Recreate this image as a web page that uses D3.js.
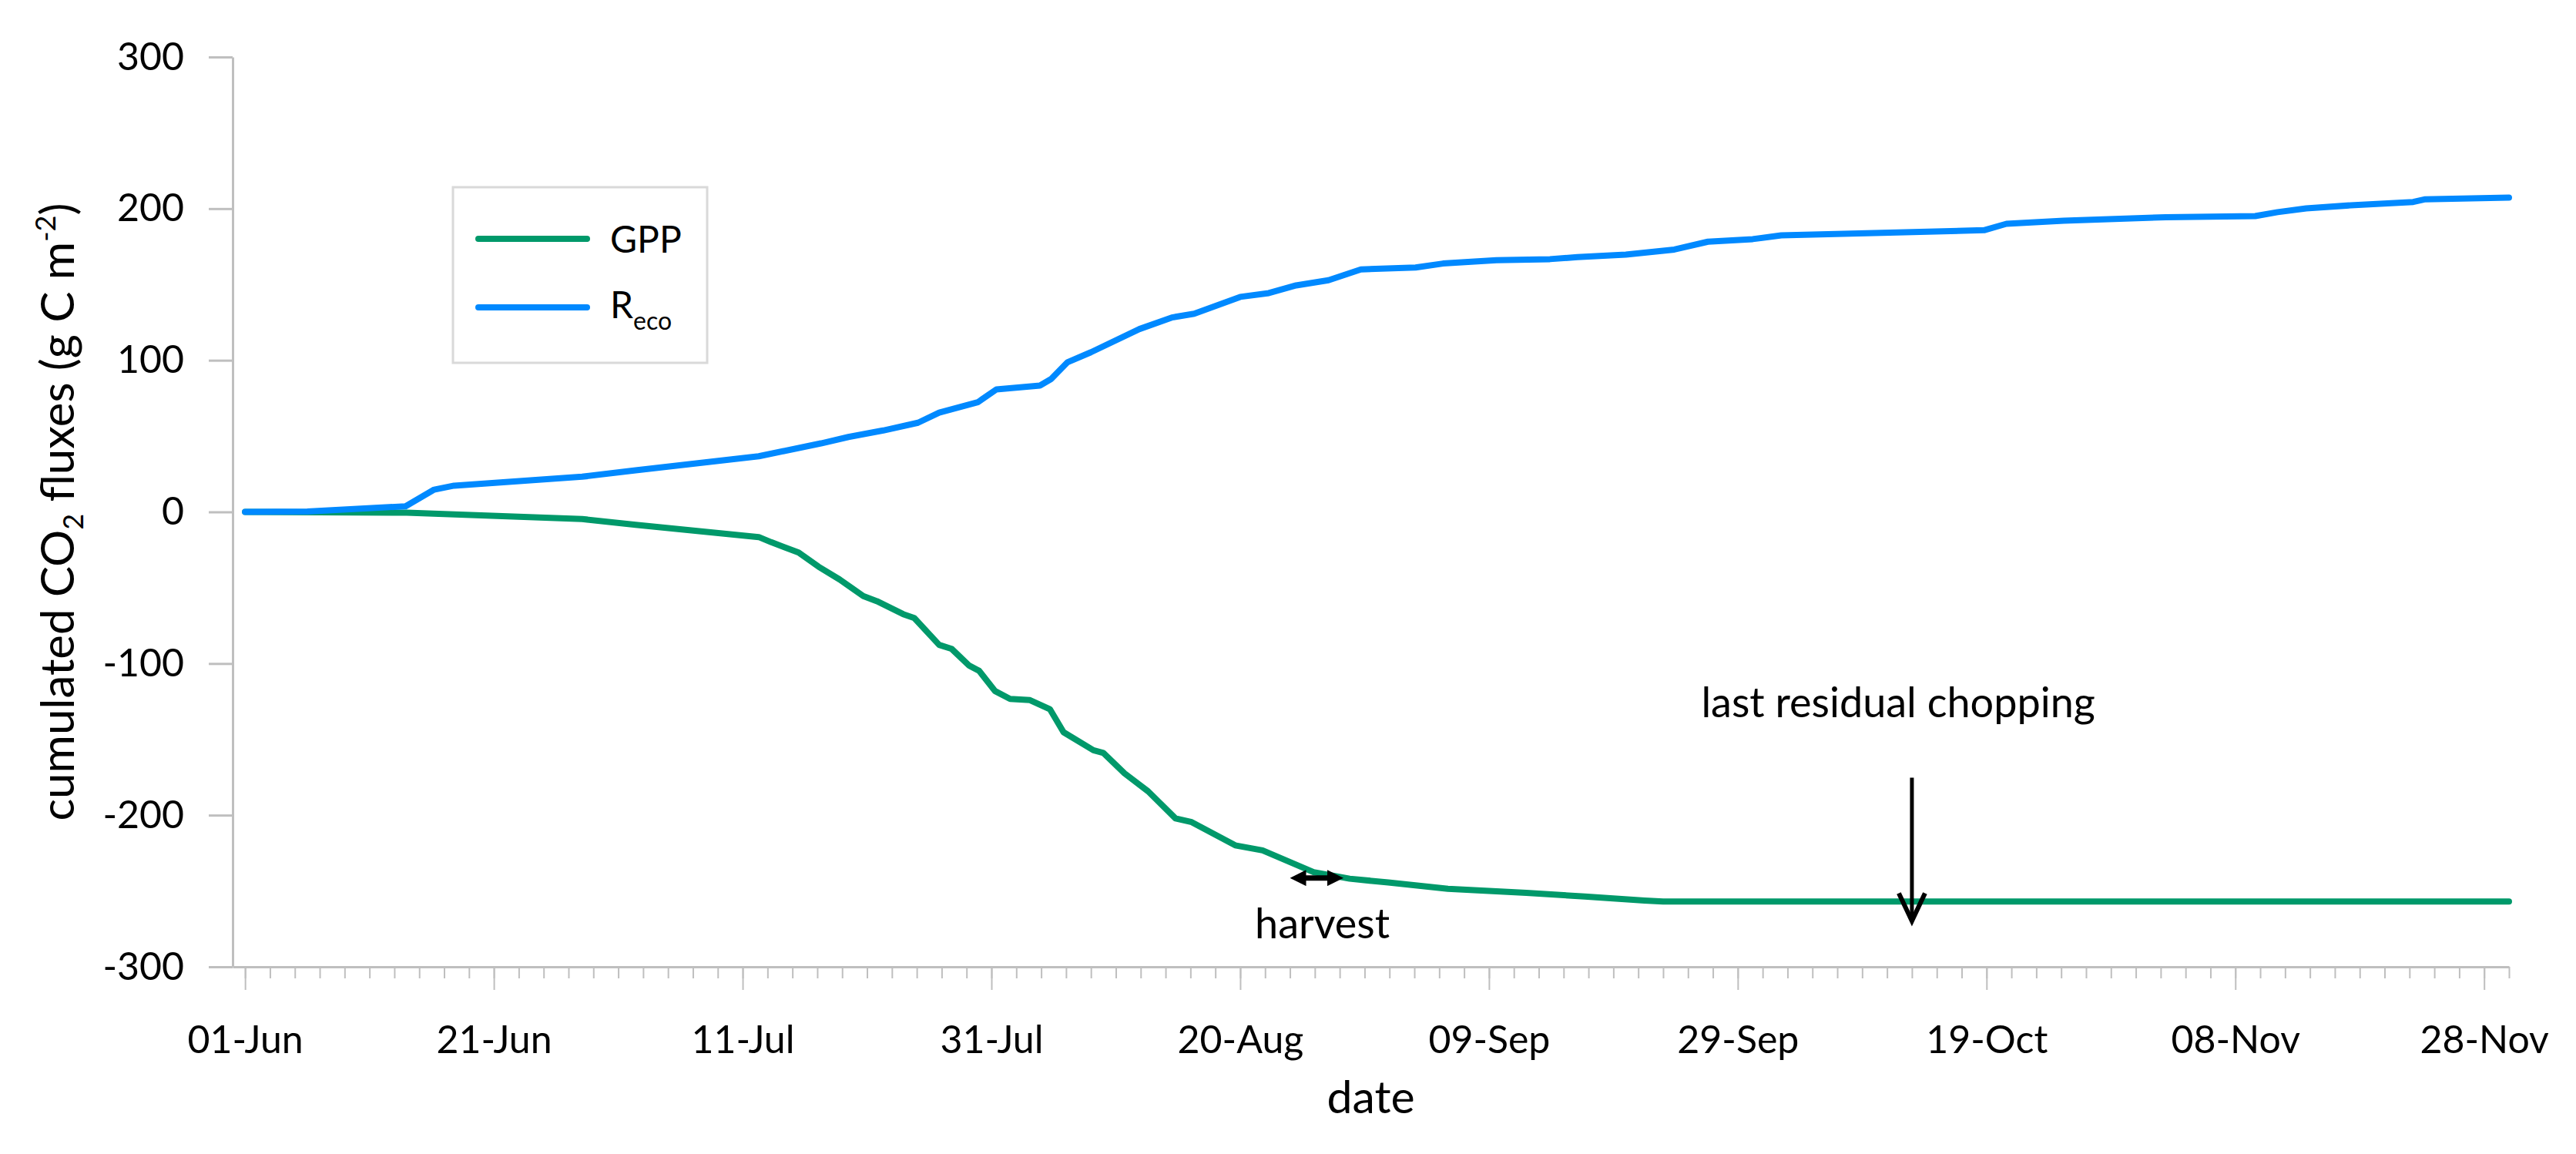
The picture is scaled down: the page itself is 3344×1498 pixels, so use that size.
<!DOCTYPE html>
<html>
<head>
<meta charset="utf-8">
<script src="https://cdn.jsdelivr.net/npm/d3@7"></script>
<style>
  html, body { margin: 0; padding: 0; background: #fff; }
  svg { display: block; font-family: Lato, "Open Sans", sans-serif; }
</style>
</head>
<body>
<svg id="chart" width="3344" height="1498"></svg>
<script>
// ---------- data (day offsets from 31 May) ----------
const baseDate = "2013-05-31";
const axisEndDate = "2013-11-30";

const recoDays   = [1, 6, 13.9, 16.2, 17.8, 28.1, 32.4, 42.3, 47.3, 49.5, 52.3, 55.1, 56.8, 59.9, 61.4, 64.9, 65.8, 67.1, 69.0, 72.9, 75.5, 77.3, 81.0, 83.3, 85.5, 88.1, 90.7, 95.1, 97.3, 101.6, 105.9, 108.1, 112.0, 115.9, 118.6, 122.2, 124.5, 132.6, 140.8, 142.6, 147.2, 155.4, 162.6, 164.4, 166.7, 170.3, 175.3, 176.2, 183];
const recoValues = [0, 0.3, 3.7, 14.7, 17.3, 23.2, 27.4, 36.7, 45.2, 49.4, 53.7, 58.8, 65.5, 72.3, 80.8, 83.3, 87.6, 98.6, 105.3, 120.6, 128.2, 130.7, 141.8, 144.3, 149.4, 152.8, 159.9, 161.2, 163.8, 166.0, 166.7, 168.0, 169.7, 173.0, 178.2, 179.9, 182.4, 184.1, 185.8, 190.0, 192.1, 194.3, 195.1, 197.7, 200.2, 202.2, 204.4, 206.1, 207.3];

const gppDays   = [1, 14, 28.1, 32.4, 42.3, 43.3, 45.5, 47.1, 48.8, 50.7, 51.8, 53.9, 54.8, 56.8, 57.8, 59.2, 60.0, 61.3, 62.5, 64.1, 65.7, 66.8, 69.2, 70.0, 71.7, 73.6, 75.8, 77.1, 80.6, 82.8, 86.9, 89.8, 92.9, 97.7, 104.0, 108.7, 113.5, 115, 183];
const gppValues = [0, -0.5, -4.7, -8.5, -16.6, -20.0, -26.8, -36.1, -44.6, -55.5, -58.9, -67.4, -70.0, -87.7, -90.3, -101.3, -104.7, -118.2, -123.3, -124.1, -130.1, -145.3, -157.2, -158.9, -172.4, -184.3, -202.1, -204.6, -219.9, -223.2, -237.6, -241.9, -244.4, -248.6, -251.2, -253.7, -256.3, -257, -257];

const xTickLabels = ["01-Jun", "21-Jun", "11-Jul", "31-Jul", "20-Aug", "09-Sep", "29-Sep", "19-Oct", "08-Nov", "28-Nov"];
const yTickValues = [-300, -200, -100, 0, 100, 200, 300];
const yTickLabels = ["-300", "-200", "-100", "0", "100", "200", "300"];

const seriesNames  = ["GPP", "Reco"];
const seriesColors = ["#00996A", "#0089FF"];

// annotations (day offsets / values)
const harvestArrowDays = [84.9, 89.4];
const harvestArrowValue = -241.4;
const harvestLabel = { text: "harvest", day: 87.6, value: -281 };
const choppingArrowDay = 135.0;
const choppingArrowValues = [-175.3, -269.8];
const choppingLabel = { text: "last residual chopping", day: 133.9, value: -135.2 };

// ---------- helpers ----------
const DAY = 864e5;
const base = new Date(baseDate + "T00:00:00Z");
const toDate = d => new Date(base.getTime() + d * DAY);

// ---------- layout ----------
const svg = d3.select("#chart");
const x = d3.scaleUtc()
  .domain([base, new Date(axisEndDate + "T00:00:00Z")])
  .range([302, 3257]);
const y = d3.scaleLinear().domain([-300, 300]).range([1255, 74]);

const axisColor = "#BFBFBF";

// ---------- y axis ----------
const gy = svg.append("g")
  .attr("transform", `translate(${x.range()[0]},0)`)
  .call(d3.axisLeft(y).tickValues(yTickValues).tickSize(31).tickSizeOuter(0).tickPadding(32)
    .tickFormat((d, i) => yTickLabels[i]));
gy.select(".domain").attr("stroke", axisColor).attr("stroke-width", 3);
gy.selectAll(".tick line").attr("stroke", axisColor).attr("stroke-width", 3);
gy.selectAll(".tick text").attr("font-size", 50).attr("fill", "#000").attr("font-family", "Lato");

// ---------- x axis ----------
const jun1 = toDate(1);
const endTick = new Date(x.domain()[1].getTime() + DAY);
const majorTicks = d3.utcDay.range(jun1, endTick, 20);
const minorTicks = d3.utcDay.range(jun1, endTick, 2);

const gxMinor = svg.append("g")
  .attr("transform", `translate(0,${y(-300)})`)
  .call(d3.axisBottom(x).tickValues(minorTicks).tickSize(15).tickSizeOuter(0).tickFormat(""));
gxMinor.select(".domain").attr("stroke", axisColor).attr("stroke-width", 3);
gxMinor.selectAll(".tick line").attr("stroke", axisColor).attr("stroke-width", 2);

const gx = svg.append("g")
  .attr("transform", `translate(0,${y(-300)})`)
  .call(d3.axisBottom(x).tickValues(majorTicks).tickSize(30).tickSizeOuter(0)
    .tickFormat((d, i) => xTickLabels[i]));
gx.select(".domain").remove();
gx.selectAll(".tick line").attr("stroke", axisColor).attr("stroke-width", 2);
gx.selectAll(".tick text").attr("font-size", 50).attr("fill", "#000")
  .attr("dy", null).attr("y", 112).attr("font-family", "Lato");

// ---------- axis titles ----------
svg.append("text")
  .attr("x", (x.range()[0] + x.range()[1]) / 2)
  .attr("y", 1445)
  .attr("text-anchor", "middle")
  .attr("font-size", 59)
  .attr("fill", "#000")
  .text("date");

const yTitle = svg.append("text")
  .attr("transform", `translate(96,${(y.range()[0] + y.range()[1]) / 2}) rotate(-90)`)
  .attr("text-anchor", "middle")
  .attr("font-size", 60)
  .attr("fill", "#000");
yTitle.append("tspan").text("cumulated CO");
yTitle.append("tspan").attr("font-size", 36).attr("dy", 12).text("2");
yTitle.append("tspan").attr("dy", -12).text(" fluxes (g C m");
yTitle.append("tspan").attr("font-size", 36).attr("dy", -24).text("-2");
yTitle.append("tspan").attr("dy", 24).text(")");

// ---------- lines ----------
const line = d3.line().x(d => x(toDate(d[0]))).y(d => y(d[1]));
const series = [
  d3.zip(gppDays, gppValues),
  d3.zip(recoDays, recoValues)
];
series.forEach((pts, i) => {
  svg.append("path")
    .datum(pts)
    .attr("fill", "none")
    .attr("stroke", seriesColors[i])
    .attr("stroke-width", 8)
    .attr("stroke-linejoin", "round")
    .attr("stroke-linecap", "round")
    .attr("d", line);
});

// ---------- legend ----------
const legend = svg.append("g");
legend.append("rect")
  .attr("x", 588).attr("y", 243).attr("width", 330).attr("height", 228)
  .attr("fill", "#fff").attr("stroke", "#D9D9D9").attr("stroke-width", 3);
const legendRows = [310, 399];
seriesNames.forEach((name, i) => {
  legend.append("line")
    .attr("x1", 621).attr("x2", 762)
    .attr("y1", legendRows[i]).attr("y2", legendRows[i])
    .attr("stroke", seriesColors[i]).attr("stroke-width", 8).attr("stroke-linecap", "round");
  const t = legend.append("text")
    .attr("x", 792).attr("y", legendRows[i] + (i === 0 ? 18 : 14))
    .attr("font-size", 48).attr("fill", "#000");
  if (name === "Reco") {
    t.append("tspan").text("R");
    t.append("tspan").attr("font-size", 32).attr("dy", 15).text("eco");
  } else {
    t.text(name);
  }
});

// ---------- annotations ----------
const defs = svg.append("defs");
defs.append("marker")
  .attr("id", "headBoth")
  .attr("viewBox", "0 0 10 10")
  .attr("refX", 6).attr("refY", 5)
  .attr("markerWidth", 3).attr("markerHeight", 3)
  .attr("markerUnits", "strokeWidth")
  .attr("orient", "auto-start-reverse")
  .append("path").attr("d", "M0,0 L10,5 L0,10 Z").attr("fill", "#000");

svg.append("line")
  .attr("x1", x(toDate(harvestArrowDays[0])) + 10)
  .attr("x2", x(toDate(harvestArrowDays[1])) - 10)
  .attr("y1", y(harvestArrowValue)).attr("y2", y(harvestArrowValue))
  .attr("stroke", "#000").attr("stroke-width", 7)
  .attr("marker-start", "url(#headBoth)")
  .attr("marker-end", "url(#headBoth)");

svg.append("text")
  .attr("x", x(toDate(harvestLabel.day)))
  .attr("y", y(harvestLabel.value))
  .attr("text-anchor", "middle")
  .attr("font-size", 54).attr("fill", "#000")
  .text(harvestLabel.text);

const cx = x(toDate(choppingArrowDay));
const cy0 = y(choppingArrowValues[0]);
const cy1 = y(choppingArrowValues[1]);
svg.append("line")
  .attr("x1", cx).attr("x2", cx).attr("y1", cy0).attr("y2", cy1 - 4)
  .attr("stroke", "#000").attr("stroke-width", 5);
svg.append("path")
  .attr("d", `M${cx - 17},${cy1 - 36} L${cx},${cy1} L${cx + 17},${cy1 - 36}`)
  .attr("fill", "none").attr("stroke", "#000").attr("stroke-width", 6)
  .attr("stroke-linejoin", "miter");

svg.append("text")
  .attr("x", x(toDate(choppingLabel.day)))
  .attr("y", y(choppingLabel.value))
  .attr("text-anchor", "middle")
  .attr("font-size", 54).attr("fill", "#000")
  .text(choppingLabel.text);
</script>
</body>
</html>
